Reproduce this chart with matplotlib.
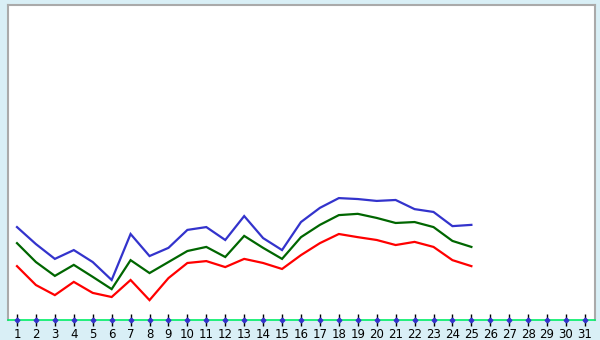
import matplotlib
matplotlib.use("Agg")
import matplotlib.pyplot as plt

days = list(range(1, 32))
data_days = list(range(1, 26))

blue_vals = [29.5, 24.1, 19.4, 22.2, 18.4, 12.7, 27.3, 20.3, 22.9, 28.6,
             29.5, 25.4, 33.0, 26.0, 22.2, 31.1, 35.6, 38.7, 38.4, 37.8,
             38.1, 35.2, 34.3, 29.8, 30.2]
green_vals = [24.4, 18.4, 14.0, 17.5, 13.7, 9.8, 19.0, 14.9, 18.4, 21.9,
              23.2, 20.0, 26.7, 22.9, 19.4, 26.3, 30.2, 33.3, 33.7, 32.4,
              30.8, 31.1, 29.5, 25.1, 23.2]
red_vals = [17.1, 11.1, 7.9, 12.1, 8.6, 7.3, 12.7, 6.3, 13.3, 18.1,
            18.7, 16.8, 19.4, 18.1, 16.2, 20.6, 24.4, 27.3, 26.3, 25.4,
            23.8, 24.8, 23.2, 19.0, 17.1]

bg = "#d9eff6"

fig = plt.figure(figsize=(6, 3.4), dpi=100, facecolor=bg)
ax = fig.add_axes([8 / 600, 20 / 340, 587 / 600, 315 / 340])
ax.set_facecolor("white")

ax.plot(data_days, blue_vals, color="#3333cc", lw=1.6, solid_joinstyle="miter")
ax.plot(data_days, green_vals, color="#006600", lw=1.6, solid_joinstyle="miter")
ax.plot(data_days, red_vals, color="#ff0000", lw=1.6, solid_joinstyle="miter")

ax.set_xlim(0.525, 31.53)
ax.set_ylim(0, 100)

for side in ["top", "left", "right"]:
    ax.spines[side].set_color("#aaaaaa")
    ax.spines[side].set_linewidth(1.5)
ax.spines["bottom"].set_color("#00ee66")
ax.spines["bottom"].set_linewidth(1.2)

ax.set_xticks(days)
ax.set_xticklabels([str(d) for d in days], fontsize=8.5, color="black")
ax.tick_params(axis="x", direction="inout", length=8, width=1, color="black", pad=2)
ax.set_yticks([])

# little dots sitting on the axis at every day
ax.plot(days, [0] * len(days), ls="none", marker="D", ms=2.4,
        color="#3333cc", clip_on=False, zorder=5)

fig.savefig("out.png", dpi=100, facecolor=bg)
